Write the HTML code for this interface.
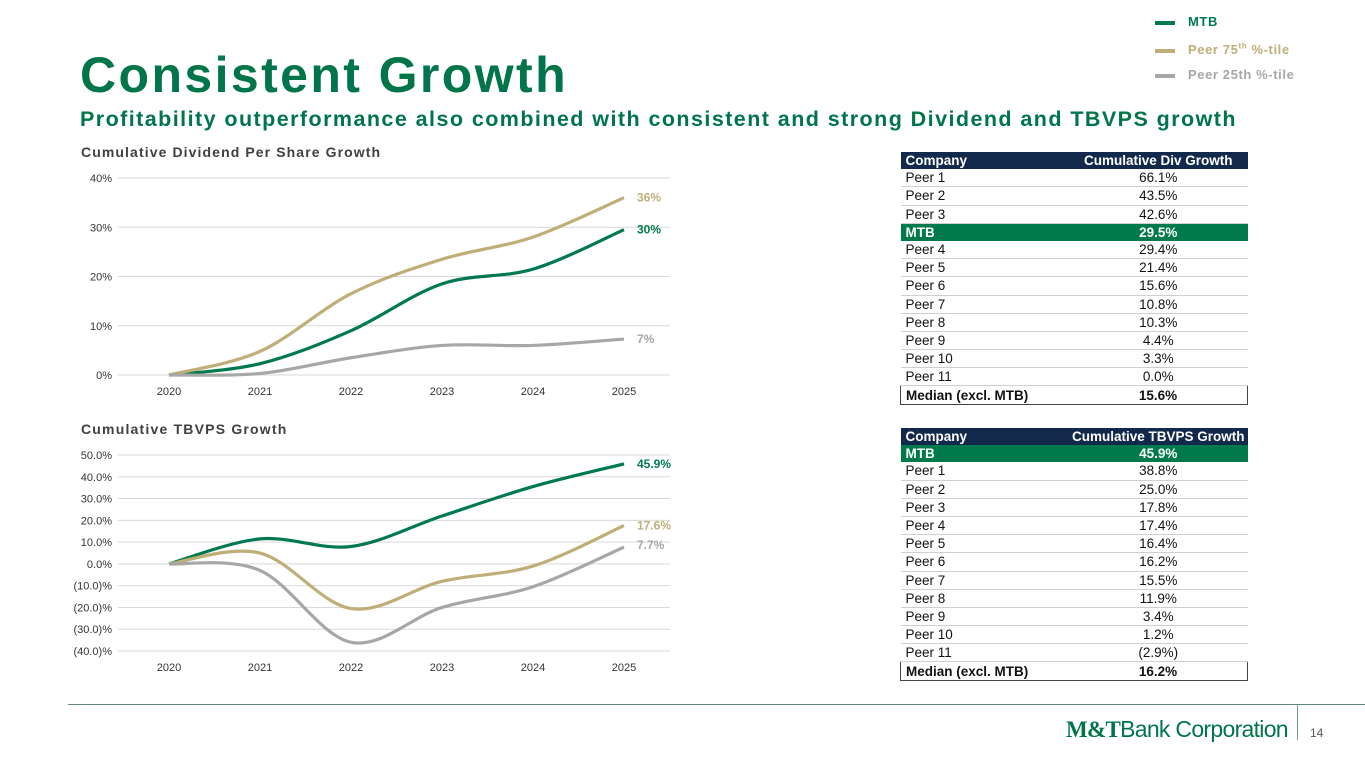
<!DOCTYPE html>
<html><head><meta charset="utf-8">
<style>
body{margin:0;width:1365px;height:768px;background:#fff;font-family:"Liberation Sans",Arial,sans-serif;position:relative;overflow:hidden}
.abs{position:absolute}
table{position:absolute;border-collapse:collapse;font-size:13.5px;width:348px;left:900px}
td{height:17.2px;padding:0 0 0 5px;border-bottom:1px solid #cfcfcf;line-height:17px;color:#111}
td.v{text-align:center;width:178px}
tr.h td{background:#13294b;color:#fff;font-weight:bold;border:none}
tr.m td{background:#007a4d;color:#fff;font-weight:bold;border:none}
tr.md td{font-weight:bold;border:1px solid #444;border-left:none;border-right:none}
tr.md td:first-child{border-left:1px solid #444}
tr.md td:last-child{border-right:1px solid #444}
</style></head><body>
<div class="abs" style="left:80px;top:46px;font-size:50px;font-weight:bold;color:#00754a;letter-spacing:2.4px">Consistent Growth</div>
<div class="abs" style="left:80px;top:107px;font-size:21.5px;font-weight:bold;color:#00754a;letter-spacing:1.44px">Profitability outperformance also combined with consistent and strong Dividend and TBVPS growth</div>
<div class="abs" style="left:1155px;top:9px;font-size:13px;font-weight:bold;line-height:25px;letter-spacing:0.6px">
<div><span style="display:inline-block;width:20px;height:4px;background:#007a4d;vertical-align:middle;margin-right:13px"></span><span style="color:#007a4d">MTB</span></div>
<div><span style="display:inline-block;width:20px;height:4px;background:#bfae78;vertical-align:middle;margin-right:13px"></span><span style="color:#bfae78">Peer 75<sup style="font-size:8px">th</sup> %-tile</span></div>
<div><span style="display:inline-block;width:20px;height:4px;background:#a7a7a7;vertical-align:middle;margin-right:13px"></span><span style="color:#a7a7a7">Peer 25th %-tile</span></div>
</div>
<div class="abs" style="left:81px;top:144px;font-size:14px;font-weight:bold;color:#404040;letter-spacing:1.1px">Cumulative Dividend Per Share Growth</div>
<div class="abs" style="left:81px;top:421px;font-size:14px;font-weight:bold;color:#404040;letter-spacing:1.2px">Cumulative TBVPS Growth</div>
<svg class="abs" style="left:0;top:0" width="1365" height="768" id="charts"></svg>

<table style="top:152px">
<tr class="h"><td>Company</td><td class="v">Cumulative Div Growth</td></tr>
<tr><td>Peer 1</td><td class="v">66.1%</td></tr>
<tr><td>Peer 2</td><td class="v">43.5%</td></tr>
<tr><td>Peer 3</td><td class="v">42.6%</td></tr>
<tr class="m"><td>MTB</td><td class="v">29.5%</td></tr>
<tr><td>Peer 4</td><td class="v">29.4%</td></tr>
<tr><td>Peer 5</td><td class="v">21.4%</td></tr>
<tr><td>Peer 6</td><td class="v">15.6%</td></tr>
<tr><td>Peer 7</td><td class="v">10.8%</td></tr>
<tr><td>Peer 8</td><td class="v">10.3%</td></tr>
<tr><td>Peer 9</td><td class="v">4.4%</td></tr>
<tr><td>Peer 10</td><td class="v">3.3%</td></tr>
<tr><td>Peer 11</td><td class="v">0.0%</td></tr>
<tr class="md"><td>Median (excl. MTB)</td><td class="v">15.6%</td></tr>
</table>
<table style="top:428px">
<tr class="h"><td>Company</td><td class="v">Cumulative TBVPS Growth</td></tr>
<tr class="m"><td>MTB</td><td class="v">45.9%</td></tr>
<tr><td>Peer 1</td><td class="v">38.8%</td></tr>
<tr><td>Peer 2</td><td class="v">25.0%</td></tr>
<tr><td>Peer 3</td><td class="v">17.8%</td></tr>
<tr><td>Peer 4</td><td class="v">17.4%</td></tr>
<tr><td>Peer 5</td><td class="v">16.4%</td></tr>
<tr><td>Peer 6</td><td class="v">16.2%</td></tr>
<tr><td>Peer 7</td><td class="v">15.5%</td></tr>
<tr><td>Peer 8</td><td class="v">11.9%</td></tr>
<tr><td>Peer 9</td><td class="v">3.4%</td></tr>
<tr><td>Peer 10</td><td class="v">1.2%</td></tr>
<tr><td>Peer 11</td><td class="v">(2.9%)</td></tr>
<tr class="md"><td>Median (excl. MTB)</td><td class="v">16.2%</td></tr>
</table>

<div class="abs" style="left:68px;top:704px;width:1297px;height:1px;background:#5f8a78"></div>
<div class="abs" style="left:1297px;top:705px;width:1px;height:35px;background:#7a9a8c"></div>
<div class="abs" style="left:1066px;top:716px;font-size:23px;color:#00754a;letter-spacing:-0.7px;white-space:nowrap"><span style="font-family:'Liberation Serif',serif;font-weight:bold">M&amp;T</span><span style="font-weight:300">Bank Corporation</span></div>
<div class="abs" style="left:1310px;top:726px;font-size:12px;color:#555">14</div>

<script>
const years=["2020","2021","2022","2023","2024","2025"];
const divMTB=[0,2.3,9,18.5,21.5,29.5];
const divP75=[0,4.8,16.5,23.5,28,36];
const divP25=[0,0.3,3.5,6,6,7.3];
const divTicks=[0,10,20,30,40];
const divLabels=["30%","36%","7%"];
const tbMTB=[0,11.5,8,22,35.5,45.9];
const tbP75=[0,5,-20.5,-8,-1,17.6];
const tbP25=[0,-3,-36,-20,-10.5,7.7];
const tbTicks=[50,40,30,20,10,0,-10,-20,-30,-40];
const tbLabels=["45.9%","17.6%","7.7%"];

const NS="http://www.w3.org/2000/svg";
const svg=document.getElementById('charts');
function el(t,a){const e=document.createElementNS(NS,t);for(const k in a)e.setAttribute(k,a[k]);svg.appendChild(e);return e;}
function path(pts){let d="M"+pts[0][0]+","+pts[0][1];for(let i=0;i<pts.length-1;i++){const p0=pts[i-1]||pts[i],p1=pts[i],p2=pts[i+1],p3=pts[i+2]||p2;const t=1/3;
d+=" C"+(p1[0]+(p2[0]-p0[0])*t/2)+","+(p1[1]+(p2[1]-p0[1])*t/2)+" "+(p2[0]-(p3[0]-p1[0])*t/2)+","+(p2[1]-(p3[1]-p1[1])*t/2)+" "+p2[0]+","+p2[1];}return d;}
const xs=i=>169+i*91;
function chart(name,ticks,fmt,y,series,labels){
 ticks.forEach(t=>{const l=el('line',{x1:118,x2:670,y1:y(t),y2:y(t),stroke:'#d9d9d9','stroke-width':1});
  
  
  const tx=el('text',{x:112,y:y(t)+4,'text-anchor':'end','font-size':'11','fill':'#333'});tx.textContent=fmt(t);
  
  });
 years.forEach((yr,i)=>{const tx=el('text',{x:xs(i),y:y(ticks.reduce((a,b)=>Math.min(a,b)))+20,'text-anchor':'middle','font-size':'11','fill':'#333'});tx.textContent=yr;
  
  });
 series.forEach((s,k)=>{const p=el('path',{d:path(s.v.map((v,i)=>[xs(i),y(v)])),fill:'none',stroke:s.c,'stroke-width':3.2});
  
  
  const last=s.v[s.v.length-1];
  const tx=el('text',{x:637,y:y(last)+4+(s.dy||0),'font-size':'12','font-weight':'bold',fill:s.c});tx.textContent=labels[k];
  
  });
}
chart('div-chart',divTicks,t=>t+'%',v=>375-v*4.925,[{n:'mtb',v:divMTB,c:'#007a4d'},{n:'peer75',v:divP75,c:'#bfae78'},{n:'peer25',v:divP25,c:'#a7a7a7'}],divLabels);
chart('tbvps-chart',tbTicks,t=>t<0?'('+(-t).toFixed(1)+')%':t.toFixed(1)+'%',v=>563.9-v*2.178,[{n:'mtb',v:tbMTB,c:'#007a4d'},{n:'peer75',v:tbP75,c:'#bfae78'},{n:'peer25',v:tbP25,c:'#a7a7a7',dy:-2}],tbLabels);
</script>
</body></html>
